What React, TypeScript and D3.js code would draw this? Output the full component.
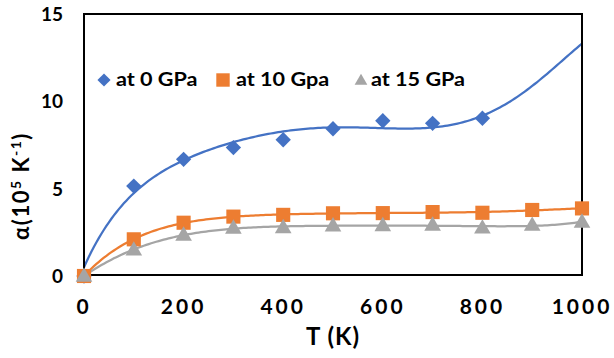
import React from "react";
import * as d3 from "d3";

// Temperature grid (K)
const temps = [0, 100, 200, 300, 400, 500, 600, 700, 800, 900, 1000];
// Thermal expansion coefficient α (10^-5 K^-1) per pressure
const alpha0GPa = [0, 5.15, 6.68, 7.35, 7.8, 8.43, 8.89, 8.74, 9.03];
const alpha10GPa = [0, 2.1, 3.05, 3.4, 3.5, 3.59, 3.6, 3.66, 3.62, 3.78, 3.87];
const alpha15GPa = [0, 1.5, 2.35, 2.75, 2.78, 2.88, 2.9, 2.93, 2.76, 2.92, 3.1];
// Trendline of the 0 GPa series, values of the fitted curve across the grid
const trend0GPa = [0.5, 4.75, 6.6, 7.7, 8.26, 8.5, 8.45, 8.55, 9.13, 10.9, 13.3];

const xTicks = [0, 200, 400, 600, 800, 1000];
const yTicks = [0, 5, 10, 15];
const legendLabels = ["at 0 GPa", "at 10 Gpa", "at 15 GPa"];

const W = 614;
const H = 358;
const FONT = "Lato, 'Open Sans', sans-serif";
const BLUE = "#4472C4";
const ORANGE = "#ED7D31";
const GRAY = "#A5A5A5";

// Least-squares polynomial fit (t scaled to thousands for conditioning)
function polyFit(xs: number[], ys: number[], deg: number) {
  const n = deg + 1;
  const A: number[][] = Array.from({ length: n }, () => new Array(n + 1).fill(0));
  xs.forEach((x0, i) => {
    const x = x0 / 1000;
    for (let r = 0; r < n; r++) {
      for (let c = 0; c < n; c++) A[r][c] += Math.pow(x, r + c);
      A[r][n] += Math.pow(x, r) * ys[i];
    }
  });
  for (let i = 0; i < n; i++) {
    let p = i;
    for (let k = i + 1; k < n; k++) if (Math.abs(A[k][i]) > Math.abs(A[p][i])) p = k;
    [A[i], A[p]] = [A[p], A[i]];
    for (let k = i + 1; k < n; k++) {
      const f = A[k][i] / A[i][i];
      for (let c = i; c <= n; c++) A[k][c] -= f * A[i][c];
    }
  }
  const coef = new Array(n).fill(0);
  for (let i = n - 1; i >= 0; i--) {
    let s = A[i][n];
    for (let c = i + 1; c < n; c++) s -= A[i][c] * coef[c];
    coef[i] = s / A[i][i];
  }
  return (t: number) => coef.reduce((acc, a, k) => acc + a * Math.pow(t / 1000, k), 0);
}

export default function App() {
  const x = d3.scaleLinear().domain([0, 1000]).range([84, 582]);
  const y = d3.scaleLinear().domain([0, 15]).range([276, 14]);

  const samples = d3.range(0, 1000.01, 5);
  const line = d3
    .line<[number, number]>()
    .x((d) => x(d[0]))
    .y((d) => y(d[1]));

  const fit0 = polyFit(temps, trend0GPa, 6);
  const fit10 = polyFit(temps, alpha10GPa, 6);
  const fit15 = polyFit(temps, alpha15GPa, 6);

  const trend = (f: (t: number) => number) =>
    line(samples.map((t) => [t, f(t)] as [number, number])) || "";

  const diamond = d3.symbol().type(d3.symbolDiamond2).size(150)() || "";
  const square = d3.symbol().type(d3.symbolSquare).size(200)() || "";
  const triangle = d3.symbol().type(d3.symbolTriangle).size(120)() || "";

  const legendX = [116, 236, 371];

  return (
    <svg
      width={W}
      height={H}
      style={{ position: "absolute", left: 0, top: 0, background: "#fff" }}
      fontFamily={FONT}
    >
      <rect x={0} y={0} width={W} height={H} fill="#fff" />

      <defs>
        <clipPath id="plotClip">
          <rect x={x(0)} y={y(15)} width={x(1000) - x(0)} height={y(0) - y(15)} />
        </clipPath>
      </defs>

      {/* trend lines */}
      <g clipPath="url(#plotClip)">
        <path d={trend(fit0)} fill="none" stroke={BLUE} strokeWidth={2.25} />
        <path d={trend(fit10)} fill="none" stroke={ORANGE} strokeWidth={2.25} />
        <path d={trend(fit15)} fill="none" stroke={GRAY} strokeWidth={2.25} />
      </g>

      {/* plot frame */}
      <rect x={x(0)} y={y(15)} width={x(1000) - x(0)} height={y(0) - y(15) - 1} fill="none" stroke="#000" strokeWidth={2} />

      {/* markers */}
      {alpha0GPa.map((v, i) => (
        <path key={"b" + i} d={diamond} transform={`translate(${x(temps[i])},${y(v)})`} fill={BLUE} />
      ))}
      {alpha10GPa.map((v, i) => (
        <path key={"o" + i} d={square} transform={`translate(${x(temps[i])},${y(v)})`} fill={ORANGE} />
      ))}
      {alpha15GPa.map((v, i) => (
        <path key={"g" + i} d={triangle} transform={`translate(${x(temps[i])},${y(v) + 1})`} fill={GRAY} />
      ))}

      {/* y tick labels */}
      {yTicks.map((t) => (
        <text key={"yt" + t} x={63} y={y(t) + 7} textAnchor="end" fontSize={19} fontWeight="bold" fill="#000">
          {t}
        </text>
      ))}
      {/* x tick labels */}
      {xTicks.map((t) => (
        <text key={"xt" + t} x={x(t)} y={314} textAnchor="middle" fontSize={21} fontWeight="bold" letterSpacing={3} fill="#000">
          {t}
        </text>
      ))}

      {/* axis titles */}
      <text x={333} y={345} textAnchor="middle" fontSize={24} fontWeight="bold" letterSpacing={1} fill="#000">
        T (K)
      </text>
      <text transform="translate(29,186) rotate(-90)" textAnchor="middle" fontSize={22} fontWeight="bold" letterSpacing={1.5} fill="#000">
        α(10<tspan fontSize={14} dy={-8}>5</tspan>
        <tspan dy={8}> K</tspan>
        <tspan fontSize={14} dy={-8}>-1</tspan>
        <tspan dy={8}>)</tspan>
      </text>

      {/* legend */}
      <g fontWeight="bold" fill="#000">
        <path d={d3.symbol().type(d3.symbolDiamond2).size(110)() || ""} transform="translate(104,80)" fill={BLUE} />
        <path d={d3.symbol().type(d3.symbolSquare).size(180)() || ""} transform="translate(223,80)" fill={ORANGE} />
        <path d={d3.symbol().type(d3.symbolTriangle).size(70)() || ""} transform="translate(361,81)" fill={GRAY} />
        {legendLabels.map((s, i) => (
          <text key={s} transform={`translate(${legendX[i]},86) scale(1.2,1)`} fontSize={18}>
            {s}
          </text>
        ))}
      </g>
    </svg>
  );
}
